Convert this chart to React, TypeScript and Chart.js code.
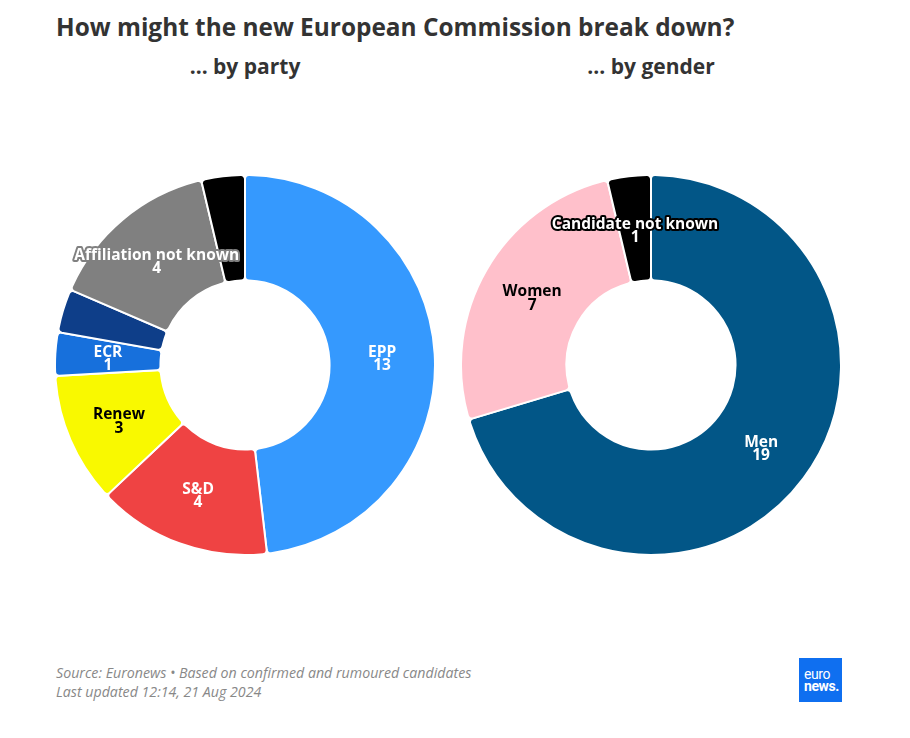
import React, { useEffect, useRef } from "react";
import { Chart, registerables } from "chart.js";

Chart.register(...registerables);

const title = "How might the new European Commission break down?";
const subtitleParty = "... by party";
const subtitleGender = "... by gender";
const sourceLine = "Source: Euronews • Based on confirmed and rumoured candidates";
const updatedLine = "Last updated 12:14, 21 Aug 2024";

const partyLabels = ["EPP", "S&D", "Renew", "ECR", "PfE", "Affiliation not known", "Candidate not known"];
const partyValues = [13, 4, 3, 1, 1, 4, 1];
const partyColors = ["#3599fe", "#ef4343", "#f9f900", "#1770dc", "#0e3e89", "#808080", "#000000"];
const partyTextColors = ["#ffffff", "#ffffff", "#000000", "#ffffff", "#ffffff", "#ffffff", "#ffffff"];
const partyShowLabel = [true, true, true, true, false, true, false];

const genderLabels = ["Men", "Women", "Candidate not known"];
const genderValues = [19, 7, 1];
const genderColors = ["#025687", "#ffc0cb", "#000000"];
const genderTextColors = ["#ffffff", "#000000", "#ffffff"];
const genderShowLabel = [true, true, true];

const FONT = "'Open Sans', 'Noto Sans', sans-serif";

const labelPlugin = {
  id: "sliceLabels",
  afterDatasetsDraw(chart: any, _args: any, opts: any) {
    const ctx = chart.ctx;
    const meta = chart.getDatasetMeta(0);
    const labels = chart.data.labels;
    const values = chart.data.datasets[0].data;
    const colors = chart.data.datasets[0].backgroundColor;
    ctx.save();
    ctx.font = `bold 15.5px ${FONT}`;
    ctx.textAlign = "center";
    ctx.textBaseline = "middle";
    ctx.lineJoin = "round";
    meta.data.forEach((arc: any, i: number) => {
      if (!opts.show[i]) return;
      const p = arc.tooltipPosition();
      const lines = [String(labels[i]), String(values[i])];
      lines.forEach((t, j) => {
        const y = p.y - 4.5 + j * 13.5;
        if (opts.outline[i]) {
          ctx.strokeStyle = colors[i];
          ctx.lineWidth = 4;
          ctx.strokeText(t, p.x, y);
        }
        ctx.fillStyle = opts.text[i];
        ctx.fillText(t, p.x, y);
      });
    });
    ctx.restore();
  },
};

function Donut(props: {
  labels: string[];
  values: number[];
  colors: string[];
  textColors: string[];
  show: boolean[];
  outline: boolean[];
  style: React.CSSProperties;
}) {
  const ref = useRef<HTMLCanvasElement>(null);
  useEffect(() => {
    const chart = new Chart(ref.current as HTMLCanvasElement, {
      type: "doughnut",
      data: {
        labels: props.labels,
        datasets: [
          {
            data: props.values,
            backgroundColor: props.colors,
            borderColor: "#ffffff",
            borderWidth: 2,
            borderRadius: 4,
          },
        ],
      },
      options: {
        animation: false,
        responsive: false,
        maintainAspectRatio: false,
        cutout: "44.5%",
        layout: { padding: 0 },
        plugins: {
          legend: { display: false },
          tooltip: { enabled: false },
          sliceLabels: { show: props.show, text: props.textColors, outline: props.outline },
        } as any,
      },
      plugins: [labelPlugin],
    });
    return () => chart.destroy();
  }, []);
  return <canvas ref={ref} width={382} height={382} style={{ position: "absolute", ...props.style }} />;
}

export default function App() {
  return (
    <div style={{ position: "absolute", left: 0, top: 0, width: 910, height: 738, background: "#fff", fontFamily: FONT, color: "#333" }}>
      <div style={{ position: "absolute", left: 56, top: 10, fontSize: 24.4, lineHeight: "34px", fontWeight: 700, whiteSpace: "nowrap", color: "#333" }}>{title}</div>
      <div style={{ position: "absolute", left: 45, width: 400, top: 52, lineHeight: "29px", textAlign: "center", fontSize: 21, fontWeight: 700, color: "#333" }}>{subtitleParty}</div>
      <div style={{ position: "absolute", left: 451, width: 400, top: 52, lineHeight: "29px", textAlign: "center", fontSize: 21, fontWeight: 700, color: "#333" }}>{subtitleGender}</div>
      <Donut
        labels={partyLabels}
        values={partyValues}
        colors={partyColors}
        textColors={partyTextColors}
        show={partyShowLabel}
        outline={[false, false, false, false, false, true, false]}
        style={{ left: 54, top: 174 }}
      />
      <Donut
        labels={genderLabels}
        values={genderValues}
        colors={genderColors}
        textColors={genderTextColors}
        show={genderShowLabel}
        outline={[false, false, true]}
        style={{ left: 460, top: 174 }}
      />
      <div style={{ position: "absolute", left: 56, top: 663, fontSize: 14.2, fontStyle: "italic", color: "#888", lineHeight: "19px", whiteSpace: "nowrap" }}>
        <div>{sourceLine}</div>
        <div>{updatedLine}</div>
      </div>
      <div style={{ position: "absolute", left: 799, top: 658, width: 43, height: 44, background: "#0f6ff0", color: "#fff", fontFamily: "Roboto, sans-serif", fontSize: 14, lineHeight: "12px", display: "flex", flexDirection: "column", justifyContent: "center", paddingLeft: 5, boxSizing: "border-box", letterSpacing: -0.4 }}>
        <div style={{ fontWeight: 400 }}>euro</div>
        <div style={{ fontWeight: 700 }}>news.</div>
      </div>
    </div>
  );
}
